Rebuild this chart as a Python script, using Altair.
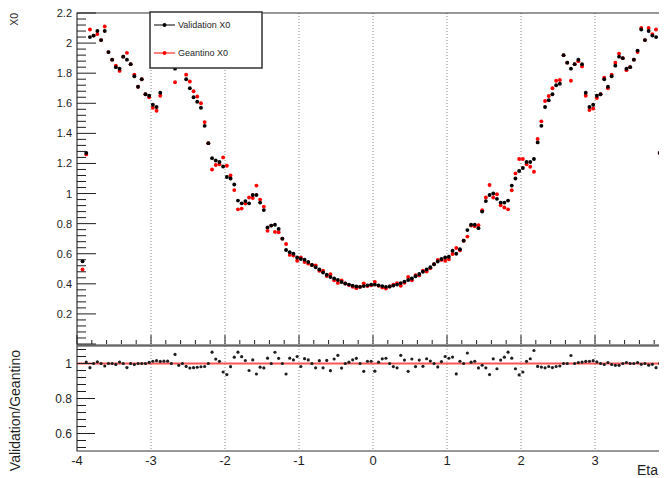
import altair as alt
import pandas as pd
import numpy as np

# ---------------- data ----------------
# bin centres of the eta histogram (bins 2..159 of 160 bins on [-4, 4])
eta_centers = [round(-4 + 0.05 * (i + 0.5), 3) for i in range(1, 159)]

validation_x0 = [
    0.55, 1.27, 2.04, 2.05, 2.08, 2.02, 2.08, 1.94, 1.89, 1.84,
    1.83, 1.91, 1.89, 1.86, 1.78, 1.71, 1.76, 1.66, 1.65, 1.59,
    1.575, 1.67, 1.87, 1.92, 1.88, 1.83, 1.87, 1.91, 1.76, 1.70,
    1.64, 1.61, 1.57, 1.45, 1.335, 1.235, 1.22, 1.21, 1.18, 1.11,
    1.10, 1.06, 0.953, 0.935, 0.95, 0.935, 0.99, 0.99, 0.94, 0.89,
    0.775, 0.787, 0.793, 0.765, 0.70, 0.625, 0.61, 0.60, 0.575, 0.565,
    0.56, 0.545, 0.525, 0.51, 0.495, 0.475, 0.46, 0.445, 0.435, 0.425,
    0.412, 0.402, 0.395, 0.388, 0.382, 0.38, 0.385, 0.39, 0.395, 0.395,
    0.39, 0.385, 0.38, 0.382, 0.388, 0.395, 0.405, 0.415, 0.425, 0.435,
    0.45, 0.465, 0.48, 0.495, 0.51, 0.53, 0.548, 0.565, 0.575, 0.58,
    0.62, 0.60, 0.63, 0.687, 0.757, 0.793, 0.793, 0.77, 0.88, 0.95,
    0.99, 1.0, 0.965, 0.94, 0.94, 0.953, 1.053, 1.10, 1.15, 1.17,
    1.21, 1.21, 1.23, 1.34, 1.45, 1.575, 1.62, 1.66, 1.72, 1.73,
    1.92, 1.87, 1.83, 1.86, 1.89, 1.86, 1.67, 1.575, 1.59, 1.65,
    1.66, 1.76, 1.71, 1.78, 1.85, 1.91, 1.90, 1.83, 1.84, 1.89,
    1.95, 2.09, 2.02, 2.08, 2.05, 2.04, 1.27, 0.55,
]

geantino_x0 = [
    0.495, 1.26, 2.09, 2.05, 2.06, 2.02, 2.11, 1.94, 1.89, 1.85,
    1.815, 1.91, 1.935, 1.86, 1.79, 1.71, 1.76, 1.66, 1.64, 1.57,
    1.55, 1.65, 1.845, 1.895, 1.88, 1.74, 1.89, 1.91, 1.79, 1.745,
    1.68, 1.645, 1.60, 1.475, 1.335, 1.16, 1.19, 1.195, 1.24, 1.185,
    1.12, 1.023, 0.895, 0.90, 0.934, 0.974, 0.97, 1.053, 0.96, 0.913,
    0.752, 0.787, 0.745, 0.743, 0.70, 0.665, 0.592, 0.588, 0.553, 0.575,
    0.545, 0.534, 0.525, 0.523, 0.487, 0.487, 0.452, 0.464, 0.424, 0.406,
    0.423, 0.402, 0.392, 0.380, 0.371, 0.38, 0.403, 0.385, 0.39, 0.413,
    0.387, 0.375, 0.369, 0.382, 0.395, 0.405, 0.387, 0.407, 0.445, 0.424,
    0.458, 0.456, 0.488, 0.482, 0.503, 0.53, 0.559, 0.559, 0.553, 0.563,
    0.598, 0.638, 0.622, 0.687, 0.714, 0.787, 0.783, 0.79, 0.889, 0.974,
    1.057, 0.974, 0.995, 0.922, 0.907, 0.895, 1.022, 1.134, 1.23, 1.23,
    1.195, 1.178, 1.145, 1.363, 1.48, 1.615, 1.648, 1.70, 1.75, 1.755,
    1.92, 1.87, 1.75, 1.86, 1.88, 1.845, 1.65, 1.555, 1.565, 1.635,
    1.66, 1.77, 1.70, 1.79, 1.87, 1.93, 1.90, 1.82, 1.84, 1.89,
    1.94, 2.10, 2.02, 2.10, 2.06, 2.09, 1.27, 0.49,
]

assert len(validation_x0) == len(eta_centers) == len(geantino_x0)

series_names = ["Validation X0", "Geantino X0"]
series_colors = ["#000000", "#ff0000"]

x_label_values = [-4, -3, -2, -1, 0, 1, 2, 3, 4]
x0_label_values = [0.2, 0.4, 0.6, 0.8, 1.0, 1.2, 1.4, 1.6, 1.8, 2.0, 2.2]
ratio_label_values = [0.6, 0.8, 1.0]
x_title = "Eta"
x0_title = "X0"
ratio_title = "Validation/Geantino"

# tick positions (axis decoration, ROOT-style inward ticks)
x_minor_ticks = [round(v, 2) for v in np.arange(-4, 4.001, 0.2) if abs(v - round(v)) > 1e-6]
x0_major_ticks = [0.0] + x0_label_values
x0_minor_ticks = [round(v, 2) for v in np.arange(0, 2.2, 0.04) if abs(v / 0.2 - round(v / 0.2)) > 1e-6]
ratio_minor_ticks = [0.52, 0.56, 0.64, 0.68, 0.72, 0.76, 0.84, 0.88, 0.92, 0.96, 1.04, 1.08]


def fmt(v):
    return f"{v:.1f}".rstrip("0").rstrip(".")


# ---------------- tables ----------------
n = len(eta_centers)
points = pd.DataFrame({
    "eta": eta_centers * 2,
    "x0": geantino_x0 + validation_x0,
    "series": [series_names[1]] * n + [series_names[0]] * n,
})
ratio_df = pd.DataFrame({
    "eta": eta_centers,
    "ratio": [v / g for v, g in zip(validation_x0, geantino_x0)],
})
ratio_df = ratio_df[(ratio_df["ratio"] >= 0.5) & (ratio_df["ratio"] <= 1.1)]
dummy = pd.DataFrame({"k": [0]})
x_labels = pd.DataFrame({"v": x_label_values, "lab": [str(v) for v in x_label_values]})
x0_labels = pd.DataFrame({"v": x0_label_values, "lab": [fmt(v) for v in x0_label_values]})
ratio_labels = pd.DataFrame({"v": ratio_label_values, "lab": [fmt(v) for v in ratio_label_values]})

# ---------------- layout ----------------
PAD_L, PAD_T = 69, 5
W, H = 582, 438          # svg width = 69 + 582 = 651 (page content width)
X_RANGE = 592            # eta = 4 sits just beyond the window edge, as in the reference
TOP_Y0 = 331             # pixel of X0 = 0
RAT_TOP, RAT_BOT = 333, 438
font = "Liberation Sans"
ink = "#1e1e1e"

x_scale = alt.Scale(domain=[-4, 4], range=[0, X_RANGE], nice=False, zero=False)
y_top_scale = alt.Scale(domain=[0, 2.2], range=[TOP_Y0, 0], nice=False, zero=False)
y_rat_scale = alt.Scale(domain=[0.5, 1.1], range=[RAT_BOT, RAT_TOP], nice=False, zero=False)


def X(field):
    return alt.X(field, type="quantitative", scale=x_scale, axis=None)


# ---------------- grid (dotted verticals at integer eta) ----------------
grid = alt.Chart(pd.DataFrame({"t": x_label_values[1:-1]})).mark_rule(
    color="#8a8a8a", strokeWidth=1, strokeDash=[1, 2]
).encode(x=X("t"), y=alt.value(0), y2=alt.value(RAT_BOT))

x_label_marks = alt.Chart(x_labels).mark_text(
    font=font, fontSize=13, color=ink, baseline="top", align="center"
).encode(x=X("v"), y=alt.value(RAT_BOT + 4), text="lab:N")

# ---------------- top panel ----------------
top_frame = alt.Chart(dummy).mark_rect(fillOpacity=0, stroke="#333333", strokeWidth=1.2).encode(
    x=alt.value(0), x2=alt.value(X_RANGE), y=alt.value(0), y2=alt.value(TOP_Y0 + 1)
)
top_points = alt.Chart(points).mark_circle(size=15, opacity=1).encode(
    x=X("eta"),
    y=alt.Y("x0:Q", scale=y_top_scale, axis=None),
    color=alt.Color("series:N", scale=alt.Scale(domain=series_names, range=series_colors), legend=None),
)
top_major = alt.Chart(pd.DataFrame({"v": x0_major_ticks})).mark_rule(color=ink, strokeWidth=1).encode(
    y=alt.Y("v:Q", scale=y_top_scale, axis=None), x=alt.value(0), x2=alt.value(19)
)
top_minor = alt.Chart(pd.DataFrame({"v": x0_minor_ticks})).mark_rule(color=ink, strokeWidth=1).encode(
    y=alt.Y("v:Q", scale=y_top_scale, axis=None), x=alt.value(0), x2=alt.value(9)
)
top_labels = alt.Chart(x0_labels).mark_text(
    font=font, fontSize=11, color=ink, align="right", baseline="middle", dy=1
).encode(y=alt.Y("v:Q", scale=y_top_scale, axis=None), x=alt.value(-5), text="lab:N")
xt_major = alt.Chart(pd.DataFrame({"t": x_label_values})).mark_rule(color=ink, strokeWidth=1).encode(
    x=X("t"), y=alt.value(TOP_Y0), y2=alt.value(TOP_Y0 - 9)
)
xt_minor = alt.Chart(pd.DataFrame({"t": x_minor_ticks})).mark_rule(color=ink, strokeWidth=1).encode(
    x=X("t"), y=alt.value(TOP_Y0), y2=alt.value(TOP_Y0 - 4)
)
top = alt.layer(top_frame, top_points, top_major, top_minor, top_labels, xt_major, xt_minor)

# ---------------- ratio panel ----------------
rat_frame = alt.Chart(dummy).mark_rect(fillOpacity=0, stroke="#333333", strokeWidth=1.2).encode(
    x=alt.value(0), x2=alt.value(X_RANGE), y=alt.value(RAT_TOP), y2=alt.value(RAT_BOT)
)
rat_line = alt.Chart(dummy).mark_rule(color="#ff2a2a", strokeWidth=2.2, opacity=0.8).encode(
    x=alt.value(0), x2=alt.value(X_RANGE), y=alt.YDatum(1.0, scale=y_rat_scale, axis=None)
)
rat_points = alt.Chart(ratio_df).mark_circle(size=10, opacity=1, color=ink).encode(
    x=X("eta"),
    y=alt.Y("ratio:Q", scale=y_rat_scale, axis=None),
)
rat_major = alt.Chart(pd.DataFrame({"v": ratio_label_values})).mark_rule(color=ink, strokeWidth=1).encode(
    y=alt.Y("v:Q", scale=y_rat_scale, axis=None), x=alt.value(0), x2=alt.value(18)
)
rat_minor = alt.Chart(pd.DataFrame({"v": ratio_minor_ticks})).mark_rule(color=ink, strokeWidth=1).encode(
    y=alt.Y("v:Q", scale=y_rat_scale, axis=None), x=alt.value(0), x2=alt.value(9)
)
rat_labels = alt.Chart(ratio_labels).mark_text(
    font=font, fontSize=12, color=ink, align="right", baseline="middle"
).encode(y=alt.Y("v:Q", scale=y_rat_scale, axis=None), x=alt.value(-5), text="lab:N")
bottom = alt.layer(rat_frame, rat_line, rat_points, rat_major, rat_minor, rat_labels)

# ---------------- axis titles ----------------
titles = [
    alt.Chart(dummy).mark_text(text=x0_title, font=font, fontSize=10.5, color=ink, angle=270,
                               align="right", baseline="middle").encode(
        x=alt.value(-62), y=alt.value(0)),
    alt.Chart(dummy).mark_text(text=ratio_title, font=font, fontSize=14, color=ink, angle=270,
                               align="right", baseline="middle").encode(
        x=alt.value(-61), y=alt.value(337)),
    alt.Chart(dummy).mark_text(text=x_title, font=font, fontSize=14, color=ink,
                               align="right", baseline="top").encode(
        x=alt.value(W - 1), y=alt.value(RAT_BOT + 13)),
]

# ---------------- legend (ROOT TLegend style box) ----------------
legend_layers = [
    alt.Chart(dummy).mark_rect(fill="white", stroke="#333333", strokeWidth=1.5).encode(
        x=alt.value(73), x2=alt.value(185), y=alt.value(-1), y2=alt.value(55)
    )
]
for name, col, ly in zip(series_names, series_colors, [12, 40]):
    legend_layers.append(
        alt.Chart(dummy).mark_rule(color=col, strokeWidth=1).encode(
            x=alt.value(77), x2=alt.value(98), y=alt.value(ly)
        )
    )
    legend_layers.append(
        alt.Chart(dummy).mark_circle(color=col, size=15, opacity=1).encode(
            x=alt.value(87.5), y=alt.value(ly)
        )
    )
    legend_layers.append(
        alt.Chart(dummy).mark_text(text=name, align="left", baseline="middle",
                                   fontSize=9, font=font, color=ink).encode(
            x=alt.value(101), y=alt.value(ly)
        )
    )

chart = (
    alt.layer(grid, x_label_marks, top, bottom, *titles, *legend_layers)
    .resolve_scale(y="independent")
    .properties(
        width=W, height=H,
        padding={"left": PAD_L, "top": PAD_T, "right": 0, "bottom": 27},
        autosize=alt.AutoSizeParams(type="none"),
        background="white",
    )
    .configure_view(stroke=None)
)

chart.save("out.html", embed_options={"renderer": "svg", "actions": False})
